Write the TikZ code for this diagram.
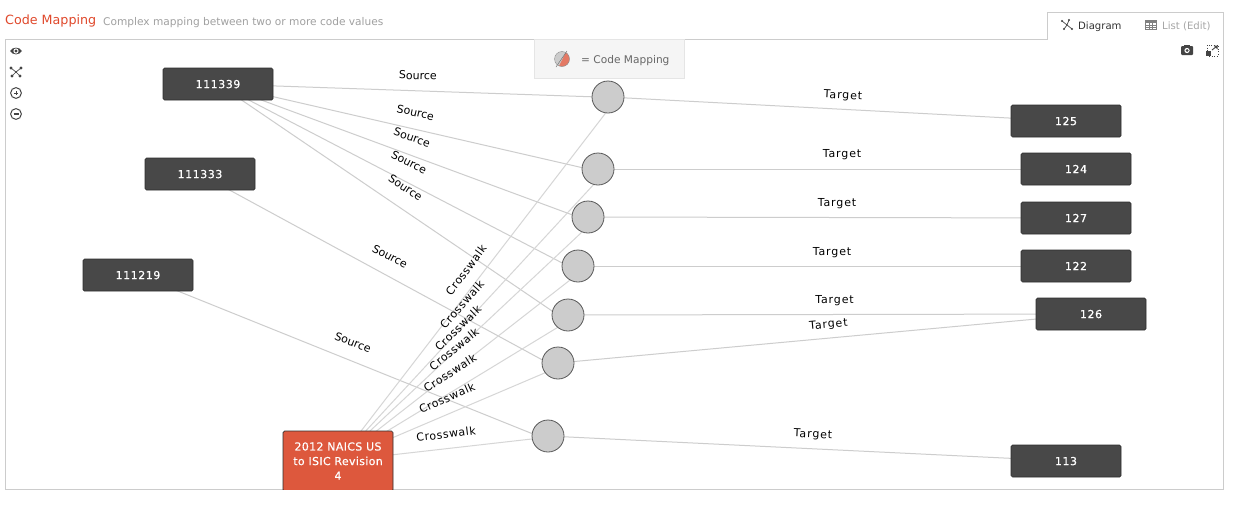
\documentclass[tikz,border=0pt]{standalone}
\usepackage{fontspec}
\setmainfont{DejaVu Sans}
\newfontfamily\xwalkfont[LetterSpace=5]{DejaVu Sans}
\newfontfamily\targetfont[LetterSpace=8]{DejaVu Sans}
\newfontfamily\boxfont[LetterSpace=5,FakeBold=0.6]{DejaVu Sans}
\newfontfamily\critfont[LetterSpace=3,FakeBold=0.6]{DejaVu Sans}
\usetikzlibrary{backgrounds}
\definecolor{framegray}{HTML}{CCCCCC}
\definecolor{edgegray}{HTML}{CDCDCD}
\definecolor{xwalkgray}{HTML}{D6D6D6}
\definecolor{boxdark}{HTML}{484848}
\definecolor{boxline}{HTML}{2E2E2E}
\definecolor{redbox}{HTML}{DD583D}
\definecolor{titlered}{HTML}{E0492C}
\definecolor{subgray}{HTML}{A0A0A0}
\definecolor{icondark}{HTML}{444444}
\tikzset{
  codebox/.style={draw=boxline,fill=boxdark,rounded corners=1.5pt,line width=.7pt,minimum width=110pt,minimum height=32pt,inner sep=0pt,text=white,text height=8.2pt,text depth=0pt,font=\fontsize{11}{13}\selectfont\boxfont},
  critbox/.style={draw=boxline,fill=redbox,rounded corners=1.5pt,line width=.7pt,minimum width=110pt,minimum height=60pt,inner sep=0pt,text=white,align=center,font=\fontsize{11}{14.6}\selectfont\critfont},
  mapdot/.style={circle,draw=black!65,fill=framegray,line width=.8pt,minimum size=32pt,inner sep=0pt},
  edgeline/.style={draw=edgegray,line width=1pt},
  xwalkline/.style={draw=xwalkgray,line width=1pt},
  sourcelabel/.style={font=\fontsize{11}{12}\selectfont,text=black,inner sep=0pt},
  xwalklabel/.style={font=\fontsize{11}{12}\selectfont\xwalkfont,text=black,inner sep=0pt},
  targetlabel/.style={font=\fontsize{11}{12}\selectfont\targetfont,text=black,inner sep=0pt},
  iconline/.style={draw=icondark,line width=1pt},
}
\begin{document}
\begin{tikzpicture}[x=1pt,y=-1pt]
\useasboundingbox (0,0) rectangle (1235,507);

% code nodes
\node[codebox] (s1) at (218,84) {111339};
\node[codebox] (s2) at (200,174) {111333};
\node[codebox] (s3) at (138,275) {111219};
\node[codebox] (t1) at (1066,121) {125};
\node[codebox] (t2) at (1076,169) {124};
\node[codebox] (t3) at (1076,218) {127};
\node[codebox] (t4) at (1076,266) {122};
\node[codebox] (t5) at (1091,314) {126};
\node[codebox] (t6) at (1066,461) {113};
\node[mapdot] (c1) at (608,97) {};
\node[mapdot] (c2) at (598,169) {};
\node[mapdot] (c3) at (588,217) {};
\node[mapdot] (c4) at (578,266) {};
\node[mapdot] (c5) at (568,315) {};
\node[mapdot] (c6) at (558,363) {};
\node[mapdot] (c7) at (548,436) {};
\begin{scope}
  \clip (0,0) rectangle (1235,489);
  \node[critbox] (x) at (338,461) {2012 NAICS US\\to ISIC Revision\\4};
\end{scope}

\begin{pgfonlayer}{background}
  \fill[white] (0,0) rectangle (1235,507);
  % frame, tab
  \draw[framegray,line width=.8pt] (1047,39) -- (5,39) -- (5,489) -- (1223,489) -- (1223,12) -- (1047,12) -- cycle;
  % legend panel
  \node[draw=black!10,fill=black!4,line width=.6pt,minimum width=150pt,minimum height=39pt,inner sep=0pt,anchor=north west] (legend) at (534,39) {};
  % connectors: sources aim 10 left of the dot, crosswalks 10 right of it
  \foreach \a/\b in {s1/c1,s1/c2,s1/c3,s1/c4,s1/c5,s2/c6,s3/c7}
    \draw[edgeline] (\a.center) -- ([xshift=-10pt]\b.center);
  \foreach \a/\b in {c1/t1,c2/t2,c3/t3,c4/t4,c5/t5,c6/t5,c7/t6}
    \draw[edgeline] (\a.center) -- (\b.center);
  \foreach \b in {c1,c2,c3,c4,c5,c6,c7}
    \draw[xwalkline] (x.center) -- ([xshift=10pt]\b.center);
\end{pgfonlayer}

% labels
\node[sourcelabel,rotate=-2] (ls1) at (418,75.5) {Source};
\node[sourcelabel,rotate=-12.6] (ls2) at (415.5,112.5) {Source};
\node[sourcelabel,rotate=-19.8] (ls3) at (412,137.5) {Source};
\node[sourcelabel,rotate=-26.8] (ls4) at (409,162) {Source};
\node[sourcelabel,rotate=-33.4] (ls5) at (405.5,187.5) {Source};
\node[sourcelabel,rotate=-27.8] (ls6) at (390,256.5) {Source};
\node[sourcelabel,rotate=-21.4] (ls7) at (353,342.5) {Source};
\node[targetlabel,rotate=-3] (lt1) at (843,96) {Target};
\node[targetlabel] (lt2) at (842,155) {Target};
\node[targetlabel] (lt3) at (837,204) {Target};
\node[targetlabel] (lt4) at (832,253) {Target};
\node[targetlabel] (lt5) at (834.5,301) {Target};
\node[targetlabel,rotate=5.2] (lt6) at (828.5,325) {Target};
\node[targetlabel,rotate=-2.8] (lt7) at (813,435) {Target};
\node[xwalklabel,rotate=53.4] (lx1) at (466,270) {Crosswalk};
\node[xwalklabel,rotate=48.3] (lx2) at (462,304.5) {Crosswalk};
\node[xwalklabel,rotate=44.3] (lx3) at (458,328) {Crosswalk};
\node[xwalklabel,rotate=39.1] (lx4) at (454,349) {Crosswalk};
\node[xwalklabel,rotate=32.4] (lx5) at (450,373) {Crosswalk};
\node[xwalklabel,rotate=24] (lx6) at (447,398) {Crosswalk};
\node[xwalklabel,rotate=6.8] (lx7) at (446,434) {Crosswalk};

% header
\node[anchor=base west,inner sep=0pt,text=titlered,font=\fontsize{12.7}{14}\selectfont] (title) at (5,24) {Code Mapping};
\node[anchor=base west,inner sep=0pt,text=subgray,font=\fontsize{10.6}{12}\selectfont] (sub) at (103,25) {Complex mapping between two or more code values};
\node[anchor=base west,inner sep=0pt,text=black!80,font=\fontsize{10.1}{12}\selectfont] (tabd) at (1078,29) {Diagram};
\node[anchor=base west,inner sep=0pt,text=black!35,font=\fontsize{10.1}{12}\selectfont] (tabl) at (1162,29) {List (Edit)};
\node[anchor=base west,inner sep=0pt,text=black!60,font=\fontsize{10.6}{12}\selectfont] (legt) at (581,63) {= Code Mapping};

% legend icon
\begin{scope}
  \clip (562,59) circle (7.5);
  \fill[framegray] (555,50) rectangle (570,68);
  \fill[redbox!80] (567,50) -- (558,68) -- (572,68) -- (572,50) -- cycle;
\end{scope}
\draw[black!55,line width=.5pt] (567,51) -- (556,67);
\draw[black!45,line width=.4pt] (562,59) circle (7.5);

% left toolbar icons
\fill[icondark] (10,51) .. controls (13,46.5) and (19,46.5) .. (22,51) .. controls (19,55.5) and (13,55.5) .. (10,51) -- cycle;
\fill[white] (16,51) circle (2.6);
\fill[icondark] (16,51) circle (1.7);
\draw[icondark,line width=.7pt] (11,68) -- (16,72) -- (21,68) (12,76) -- (16,72) -- (20,76);
\foreach \p in {(11,68),(21,68),(12,76),(20,76)} \fill[icondark] \p circle (1.7);
\fill[icondark] (16,72) circle (1.2);
\draw[iconline] (16,93) circle (5.4);
\draw[iconline,line width=.9pt] (13.8,93) -- (18.2,93) (16,90.8) -- (16,95.2);
\draw[iconline] (16,114) circle (5.4);
\draw[iconline,line width=1.1pt] (13.5,114) -- (18.5,114);

% camera
\fill[icondark,rounded corners=1pt] (1181,46) rectangle (1193,55);
\fill[icondark] (1184,46) rectangle (1190,44.5);
\fill[white] (1187,50.5) circle (2.6);
\fill[icondark] (1187,50.5) circle (1.5);
% expand
\draw[icondark,line width=.6pt,dotted] (1207,45) rectangle (1218,56);
\fill[icondark] (1206,51) rectangle (1211,56);
\draw[icondark,line width=.9pt] (1212,50) -- (1216.5,46.5);
\fill[icondark] (1217.5,45.5) -- (1213.5,45.5) -- (1217.5,49.5) -- cycle;

% diagram tab icon
\draw[icondark,line width=.7pt] (1062,21) -- (1067,25) -- (1072,29) (1067,25) -- (1064,29) (1067,25) -- (1069,20);
\foreach \p in {(1062,21),(1072,29),(1064,29),(1069,20)} \fill[icondark] \p circle (1.1);
% list tab icon
\draw[black!50,line width=.6pt] (1145,20.5) rectangle (1156,29.5);
\fill[black!50] (1145,20.5) rectangle (1156,22.5);
\draw[black!50,line width=.4pt] (1145,25) -- (1156,25) (1145,27.2) -- (1156,27.2) (1149,22.5) -- (1149,29.5) (1152.5,22.5) -- (1152.5,29.5);
\end{tikzpicture}
\end{document}
